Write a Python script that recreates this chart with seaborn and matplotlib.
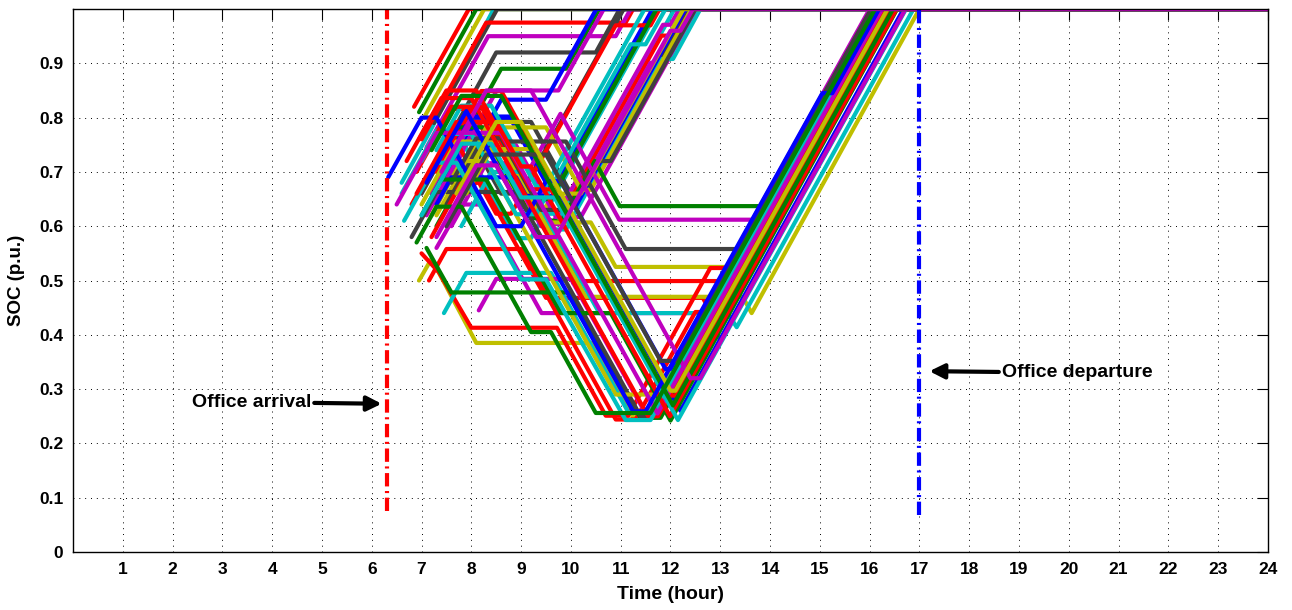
import pandas as pd
import seaborn as sns
import matplotlib.pyplot as plt

# SOC trajectories of the EV fleet, breakpoints (hour, SOC)
# every vehicle stays at full charge (1.0) after its last breakpoint until 24h
ev_early = [
    [(6.85, 0.82), (7.95, 1.0)],
    [(6.95, 0.81), (8.1, 1.0)],
    [(7.05, 0.80), (8.26, 1.0)],
    [(6.6, 0.68), (7.2, 0.78), (8.45, 1.0)],
    [(7.25, 0.79), (8.52, 1.0)],
]
ev_early_colors = ["r", "g", "y", "c", "k"]

ev_high = [
    [(7.0, 0.76), (8.3, 0.975), (11.1, 0.975), (11.25, 1.0)],
    [(7.1, 0.745), (8.34, 0.95), (10.9, 0.95), (11.2, 1.0)],
    [(7.3, 0.72), (8.5, 0.92), (10.5, 0.92), (10.98, 1.0)],
    [(7.45, 0.70), (8.6, 0.89), (9.9, 0.89), (10.57, 1.0)],
    [(7.3, 0.65), (8.51, 0.85), (9.75, 0.85), (10.66, 1.0)],
    [(7.55, 0.66), (8.6, 0.833), (9.5, 0.833), (10.51, 1.0)],
]
ev_high_colors = ["r", "m", "k", "g", "m", "b"]

ev_midday = [
    [(6.6, 0.66), (7.3, 0.776), (7.7, 0.776), (8.9, 0.578), (9.2, 0.578), (11.76, 1.0)],
    [(6.9, 0.70), (7.6, 0.816), (8.0, 0.816), (9.2, 0.618), (9.4, 0.618), (11.71, 1.0)],
    [(7.0, 0.66), (7.8, 0.792), (8.6, 0.66), (9.0, 0.66), (11.06, 1.0)],
    [(7.3, 0.62), (8.2, 0.768), (9.0, 0.636), (9.5, 0.636), (11.7, 1.0)],
    [(7.5, 0.60), (8.4, 0.749), (8.9, 0.749), (9.7, 0.617), (10.2, 0.617), (12.52, 1.0)],
    [(7.7, 0.64), (8.5, 0.772), (9.4, 0.623), (9.8, 0.623), (12.08, 1.0)],
    [(7.4, 0.68), (8.1, 0.796), (8.8, 0.796), (9.5, 0.68), (9.7, 0.68), (11.64, 1.0)],
    [(7.8, 0.66), (8.6, 0.792), (9.2, 0.792), (10.0, 0.66), (10.3, 0.66), (12.36, 1.0)],
    [(7.3, 0.70), (8.2, 0.849), (8.6, 0.849), (9.8, 0.651), (10.0, 0.651), (11.82, 0.951),
     (12.0, 0.951), (12.3, 1.0)],
    [(7.1, 0.62), (8.0, 0.769), (8.6, 0.769), (9.6, 0.604), (9.8, 0.604), (11.6, 0.901),
     (11.85, 0.901), (12.45, 1.0)],
    [(7.2, 0.66), (8.0, 0.792), (8.4, 0.792), (9.6, 0.594), (9.9, 0.594), (11.8, 0.908),
     (12.05, 0.908), (12.6, 1.0)],
    [(6.8, 0.64), (7.6, 0.772), (8.5, 0.623), (8.8, 0.623), (10.9, 0.97), (11.6, 0.97), (11.78, 1.0)],
    [(7.6, 0.60), (8.3, 0.716), (8.7, 0.716), (9.4, 0.60), (9.6, 0.60), (11.85, 0.971),
     (12.0, 0.971), (12.18, 1.0)],
    [(7.2, 0.70), (7.7, 0.782), (8.4, 0.782), (9.2, 0.65), (9.6, 0.65), (11.72, 1.0)],
    [(7.5, 0.72), (8.0, 0.802), (8.8, 0.802), (9.8, 0.637), (10.1, 0.637), (12.3, 1.0)],
    [(7.8, 0.70), (8.3, 0.782), (9.5, 0.782), (10.2, 0.667), (10.4, 0.667), (12.42, 1.0)],
    [(7.3, 0.74), (7.8, 0.822), (8.4, 0.822), (9.3, 0.674), (9.5, 0.674), (11.48, 1.0)],
]
ev_midday_colors = ["c", "r", "k", "y", "m", "c", "b", "k", "r", "m", "c", "r", "m",
                    "g", "b", "y", "c"]

ev_plateau = [
    [(7.3, 0.60), (8.1, 0.732), (8.5, 0.732), (9.2, 0.616), (9.8, 0.608), (10.48, 0.72),
     (10.98, 0.637), (13.83, 0.637), (16.03, 1.0)],
    [(7.2, 0.66), (8.0, 0.792), (8.4, 0.792), (8.9, 0.71), (9.2, 0.71), (9.79, 0.807),
     (10.97, 0.612), (13.65, 0.612), (16.0, 1.0)],
    [(7.5, 0.64), (8.2, 0.756), (9.9, 0.756), (11.1, 0.558), (13.45, 0.558), (16.13, 1.0)],
    [(7.0, 0.64), (7.7, 0.756), (8.5, 0.756), (9.4, 0.607), (10.4, 0.607), (10.9, 0.525),
     (13.3, 0.525), (16.18, 1.0)],
    [(7.0, 0.72), (7.6, 0.82), (8.2, 0.82), (10.15, 0.499), (13.05, 0.499), (16.09, 1.0)],
    [(7.2, 0.58), (7.8, 0.68), (8.2, 0.68), (9.5, 0.468), (12.65, 0.468), (12.95, 0.418), (16.48, 1.0)],
    [(7.3, 0.56), (7.8, 0.64), (8.2, 0.64), (9.41, 0.44), (12.7, 0.44), (13.0, 0.39), (16.7, 1.0)],
    [(7.6, 0.62), (8.3, 0.736), (8.7, 0.736), (10.3, 0.47), (13.45, 0.47), (13.63, 0.44), (17.0, 1.0)],
    [(7.8, 0.60), (8.4, 0.70), (9.0, 0.70), (10.57, 0.44), (13.15, 0.44), (13.33, 0.414), (16.88, 1.0)],
    [(6.95, 0.50), (7.2, 0.54), (8.1, 0.385), (10.42, 0.385), (11.25, 0.248), (11.5, 0.248),
     (12.7, 0.446), (13.0, 0.446), (15.3, 0.826), (15.5, 0.826), (16.55, 1.0)],
    [(7.0, 0.55), (7.35, 0.515), (8.0, 0.413), (9.72, 0.413), (10.7, 0.251), (11.15, 0.251),
     (12.8, 0.523), (13.4, 0.523), (16.28, 1.0)],
]
ev_plateau_colors = ["g", "m", "k", "y", "r", "r", "m", "y", "c", "y", "r"]

ev_extra = [
    [(7.45, 0.44), (7.9, 0.514), (9.6, 0.514), (11.15, 0.258), (11.6, 0.258), (16.1, 1.0)],
    [(7.15, 0.50), (7.5, 0.558), (9.0, 0.558), (10.9, 0.244), (11.3, 0.244), (12.5, 0.442),
     (12.8, 0.442), (16.18, 1.0)],
    [(8.15, 0.445), (8.5, 0.503), (10.0, 0.503), (11.5, 0.255), (11.7, 0.255), (16.25, 1.0)],
    [(7.1, 0.56), (7.6, 0.478), (10.0, 0.478), (11.4, 0.247), (11.8, 0.247), (16.35, 1.0)],
    [(6.8, 0.58), (7.3, 0.663), (8.9, 0.663), (11.4, 0.25), (11.6, 0.25), (16.15, 1.0)],
    [(7.2, 0.62), (7.8, 0.72), (8.3, 0.72), (10.9, 0.29), (11.9, 0.29), (16.2, 1.0)],
    [(7.3, 0.64), (7.6, 0.69), (8.9, 0.69), (9.1, 0.656), (9.8, 0.656), (12.2, 0.26), (16.68, 1.0)],
    [(7.0, 0.72), (7.3, 0.77), (8.0, 0.77), (8.9, 0.622), (9.3, 0.622), (11.2, 0.935),
     (11.5, 0.935), (11.9, 1.0)],
    [(7.6, 0.68), (8.1, 0.762), (8.6, 0.762), (9.4, 0.63), (10.0, 0.63), (10.55, 0.72),
     (10.8, 0.72), (12.5, 1.0)],
    [(7.9, 0.66), (8.4, 0.742), (9.2, 0.742), (9.7, 0.66), (10.2, 0.66), (12.26, 1.0)],
    [(6.95, 0.76), (7.5, 0.85), (8.1, 0.85), (9.2, 0.668), (9.6, 0.668), (11.9, 0.288),
     (12.1, 0.288), (16.4, 1.0)],
    [(7.0, 0.62), (7.4, 0.686), (8.3, 0.686), (9.8, 0.44), (10.8, 0.44), (12.0, 0.242), (16.55, 1.0)],
]
ev_extra_colors = ["c", "r", "m", "g", "k", "y", "b", "c", "k", "y", "r", "g"]

ev_deep = [
    [(6.33, 0.69), (7.0, 0.80), (7.3, 0.80), (8.5, 0.60), (9.0, 0.60), (9.5, 0.683), (9.8, 0.683),
     (11.9, 0.337), (12.0, 0.337), (15.01, 0.834), (15.25, 0.834), (16.26, 1.0)],
    [(6.7, 0.72), (7.4, 0.836), (8.0, 0.836), (11.55, 0.25), (11.75, 0.25), (16.3, 1.0)],
    [(6.65, 0.61), (7.3, 0.717), (7.7, 0.717), (9.0, 0.502), (9.5, 0.502), (11.1, 0.243),
     (11.6, 0.243), (16.19, 1.0)],
    [(6.5, 0.64), (7.3, 0.772), (8.6, 0.772), (11.74, 0.255), (16.25, 1.0)],
    [(6.9, 0.66), (7.7, 0.792), (8.5, 0.792), (9.0, 0.71), (9.2, 0.71), (11.99, 0.25), (16.54, 1.0)],
    [(7.0, 0.62), (7.8, 0.752), (8.4, 0.752), (9.0, 0.653), (9.67, 0.653), (12.15, 0.243), (16.73, 1.0)],
    [(7.2, 0.74), (7.8, 0.84), (8.6, 0.84), (12.05, 0.27), (16.47, 1.0)],
    [(7.4, 0.70), (8.3, 0.85), (9.2, 0.85), (12.4, 0.32), (12.6, 0.32), (16.72, 1.0)],
    [(7.5, 0.60), (8.3, 0.732), (9.5, 0.732), (11.8, 0.352), (12.1, 0.352), (16.03, 1.0)],
    [(7.1, 0.68), (7.9, 0.812), (11.25, 0.259), (11.5, 0.259), (15.05, 0.845), (15.25, 0.845),
     (16.19, 1.0)],
    [(7.7, 0.66), (8.5, 0.792), (9.0, 0.792), (12.0, 0.297), (12.1, 0.297), (16.36, 1.0)],
    [(6.9, 0.57), (7.3, 0.636), (7.8, 0.636), (9.2, 0.405), (9.6, 0.405), (10.5, 0.256),
     (11.6, 0.256), (16.11, 1.0)],
    [(7.3, 0.58), (8.1, 0.712), (8.5, 0.712), (9.3, 0.58), (9.7, 0.58), (12.0, 0.96), (12.2, 0.96),
     (12.45, 1.0)],
]
ev_deep_colors = ["b", "r", "c", "m", "r", "c", "g", "m", "k", "b", "y", "g", "m"]

arrival_hour = 6.3
departure_hour = 17.0

# matlab-ish line colours
matlab = {"b": (0, 0, 1), "g": (0, 0.5, 0), "r": (1, 0, 0), "c": (0, 0.75, 0.75),
          "m": (0.75, 0, 0.75), "y": (0.75, 0.75, 0), "k": (0.25, 0.25, 0.25)}

rows = []
palette = {}
n = 0
for group, cols in [(ev_early, ev_early_colors), (ev_high, ev_high_colors),
                    (ev_midday, ev_midday_colors), (ev_plateau, ev_plateau_colors),
                    (ev_extra, ev_extra_colors), (ev_deep, ev_deep_colors)]:
    for pts, c in zip(group, cols):
        n += 1
        name = "ev%02d" % n
        palette[name] = matlab[c]
        for t, s in pts + [(24.0, 1.0)]:
            rows.append((name, t, s))
df = pd.DataFrame(rows, columns=["ev", "hour", "soc"])

sns.set_style("white")
plt.rcParams["font.family"] = ["Liberation Sans", "DejaVu Sans"]
plt.rcParams["font.weight"] = "bold"
for key in ["text.color", "axes.labelcolor", "xtick.color", "ytick.color"]:
    plt.rcParams[key] = "k"

fig = plt.figure(figsize=(12.92, 6.10), dpi=100)
ax = fig.add_axes([0.0565, 0.0951, 0.9249, 0.8901])

sns.lineplot(data=df, x="hour", y="soc", hue="ev", palette=palette, estimator=None,
             sort=False, legend=False, linewidth=3.0, ax=ax)

# arrival / departure markers
ax.plot([arrival_hour, arrival_hour], [0.075, 1.0], color="r", lw=3.0,
        linestyle=(0, (3.2, 1.1, 0.5, 1.1)))
ax.plot([departure_hour, departure_hour], [0.068, 1.0], color="b", lw=3.0,
        linestyle=(0, (3.2, 1.1, 0.5, 1.1)))

ax.annotate("Office arrival", xy=(6.2, 0.273), xytext=(4.78, 0.276), ha="right", va="center",
            fontsize=14, fontweight="bold",
            arrowprops=dict(arrowstyle="-|>", color="k", lw=3.0, mutation_scale=22,
                            shrinkA=0, shrinkB=0))
ax.annotate("Office departure", xy=(17.2, 0.333), xytext=(18.66, 0.33), ha="left", va="center",
            fontsize=14, fontweight="bold",
            arrowprops=dict(arrowstyle="-|>", color="k", lw=3.0, mutation_scale=22,
                            shrinkA=0, shrinkB=0))

ax.set_xlim(0, 24)
ax.set_ylim(0, 1)
ax.set_xticks(range(1, 25))
ax.set_yticks([i / 10 for i in range(10)])
ax.set_yticklabels(["0"] + ["%.1f" % (i / 10) for i in range(1, 10)])
ax.grid(True, color="k", linestyle=(0, (1, 5)), linewidth=0.7)
ax.tick_params(direction="in", length=8, width=0.8, top=True, right=True,
               labelsize=12.5, pad=7)
for lab in ax.get_xticklabels() + ax.get_yticklabels():
    lab.set_fontweight("bold")
for sp in ax.spines.values():
    sp.set_color("k")
    sp.set_linewidth(1.0)
ax.set_xlabel("Time (hour)", fontsize=14, fontweight="bold", labelpad=7)
ax.set_ylabel("SOC (p.u.)", fontsize=13.5, fontweight="bold", labelpad=10)

fig.savefig("out.png", dpi=100)
